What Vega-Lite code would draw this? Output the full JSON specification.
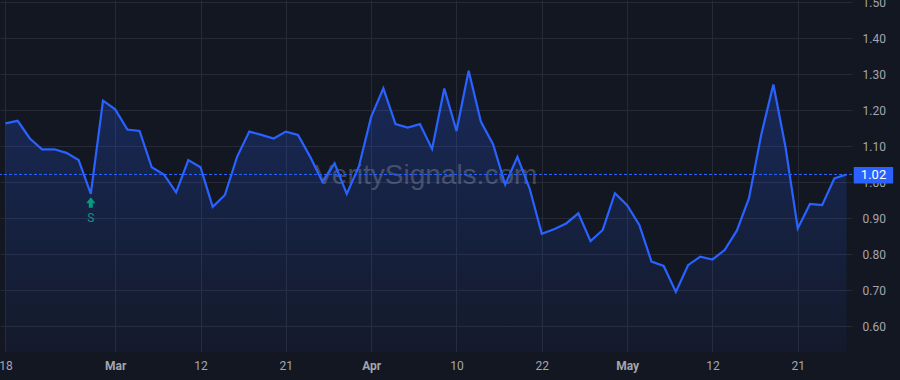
{
  "$schema": "https://vega.github.io/schema/vega-lite/v6.json",
  "width": 852,
  "height": 352,
  "autosize": {"type": "none"},
  "padding": {"left": 0, "top": 0, "right": 48, "bottom": 28},
  "background": "#131722",
  "config": {"view": {"stroke": null}, "font": "Roboto"},
  "data": {"values": [
    {"date": "2025-02-18", "value": 1.163},
    {"date": "2025-02-19", "value": 1.170},
    {"date": "2025-02-20", "value": 1.121},
    {"date": "2025-02-21", "value": 1.091},
    {"date": "2025-02-24", "value": 1.091},
    {"date": "2025-02-25", "value": 1.081},
    {"date": "2025-02-26", "value": 1.061},
    {"date": "2025-02-27", "value": 0.967, "signal": "S"},
    {"date": "2025-02-28", "value": 1.226},
    {"date": "2025-03-03", "value": 1.202},
    {"date": "2025-03-04", "value": 1.146},
    {"date": "2025-03-05", "value": 1.142},
    {"date": "2025-03-06", "value": 1.041},
    {"date": "2025-03-07", "value": 1.021},
    {"date": "2025-03-10", "value": 0.971},
    {"date": "2025-03-11", "value": 1.061},
    {"date": "2025-03-12", "value": 1.041},
    {"date": "2025-03-13", "value": 0.931},
    {"date": "2025-03-14", "value": 0.964},
    {"date": "2025-03-17", "value": 1.070},
    {"date": "2025-03-18", "value": 1.140},
    {"date": "2025-03-19", "value": 1.131},
    {"date": "2025-03-20", "value": 1.121},
    {"date": "2025-03-21", "value": 1.140},
    {"date": "2025-03-24", "value": 1.131},
    {"date": "2025-03-25", "value": 1.070},
    {"date": "2025-03-26", "value": 1.001},
    {"date": "2025-03-27", "value": 1.052},
    {"date": "2025-03-28", "value": 0.967},
    {"date": "2025-03-31", "value": 1.044},
    {"date": "2025-04-01", "value": 1.181},
    {"date": "2025-04-02", "value": 1.260},
    {"date": "2025-04-03", "value": 1.161},
    {"date": "2025-04-04", "value": 1.151},
    {"date": "2025-04-07", "value": 1.161},
    {"date": "2025-04-08", "value": 1.092},
    {"date": "2025-04-09", "value": 1.260},
    {"date": "2025-04-10", "value": 1.142},
    {"date": "2025-04-11", "value": 1.309},
    {"date": "2025-04-14", "value": 1.168},
    {"date": "2025-04-15", "value": 1.105},
    {"date": "2025-04-16", "value": 0.993},
    {"date": "2025-04-17", "value": 1.070},
    {"date": "2025-04-21", "value": 0.982},
    {"date": "2025-04-22", "value": 0.856},
    {"date": "2025-04-23", "value": 0.869},
    {"date": "2025-04-24", "value": 0.885},
    {"date": "2025-04-25", "value": 0.913},
    {"date": "2025-04-28", "value": 0.836},
    {"date": "2025-04-29", "value": 0.867},
    {"date": "2025-04-30", "value": 0.969},
    {"date": "2025-05-01", "value": 0.936},
    {"date": "2025-05-02", "value": 0.881},
    {"date": "2025-05-05", "value": 0.779},
    {"date": "2025-05-06", "value": 0.767},
    {"date": "2025-05-07", "value": 0.695},
    {"date": "2025-05-08", "value": 0.769},
    {"date": "2025-05-09", "value": 0.793},
    {"date": "2025-05-12", "value": 0.785},
    {"date": "2025-05-13", "value": 0.811},
    {"date": "2025-05-14", "value": 0.865},
    {"date": "2025-05-15", "value": 0.955},
    {"date": "2025-05-16", "value": 1.131},
    {"date": "2025-05-19", "value": 1.271},
    {"date": "2025-05-20", "value": 1.096},
    {"date": "2025-05-21", "value": 0.871},
    {"date": "2025-05-22", "value": 0.939},
    {"date": "2025-05-23", "value": 0.936},
    {"date": "2025-05-27", "value": 1.010},
    {"date": "2025-05-28", "value": 1.021, "last": true}
  ]},
  "layer": [
    {
      "mark": {
        "type": "area",
        "line": false,
        "fill": {
          "gradient": "linear", "x1": 1, "y1": 1, "x2": 1, "y2": 0,
          "stops": [
            {"offset": 0, "color": "rgba(41,98,255,0.04)"},
            {"offset": 1, "color": "rgba(41,98,255,0.25)"}
          ]
        }
      },
      "encoding": {
        "x": {
          "field": "date", "type": "ordinal",
          "scale": {"type": "point", "padding": 0.45},
          "axis": {
            "title": null,
            "values": ["2025-02-18", "2025-03-03", "2025-03-12", "2025-03-21", "2025-04-01", "2025-04-10", "2025-04-22", "2025-05-01", "2025-05-12", "2025-05-21"],
            "labelExpr": "datum.value == '2025-03-03' ? 'Mar' : datum.value == '2025-04-01' ? 'Apr' : datum.value == '2025-05-01' ? 'May' : slice(datum.value, 8)",
            "labelFontWeight": {"condition": {"test": "indexof(['2025-03-03','2025-04-01','2025-05-01'], datum.value) >= 0", "value": "bold"}, "value": "normal"},
            "labelAngle": 0,
            "labelOverlap": false,
            "labelFontSize": 12,
            "labelColor": "#a3a6af",
            "labelPadding": 8,
            "grid": true,
            "gridColor": "#262a36",
            "ticks": false,
            "domain": false
          }
        },
        "y": {
          "field": "value", "type": "quantitative",
          "scale": {"domain": [0.528, 1.5056], "nice": false, "zero": false},
          "axis": {
            "title": null,
            "orient": "right",
            "values": [0.6, 0.7, 0.8, 0.9, 1.0, 1.1, 1.2, 1.3, 1.4, 1.5],
            "tickCount": 20,
            "format": ".2f",
            "labelOverlap": false,
            "labelBound": false,
            "labelFontSize": 12,
            "labelColor": "#a3a6af",
            "labelPadding": 10,
            "grid": true,
            "gridColor": "#262a36",
            "ticks": false,
            "domain": false
          }
        },
        "y2": {"datum": 0.528}
      }
    },
    {
      "data": {"values": [{"t": "VeritySignals.com"}]},
      "mark": {"type": "text", "x": {"expr": "width / 2"}, "y": {"expr": "height / 2"}, "align": "center", "baseline": "middle", "fontSize": 28, "font": "Liberation Sans", "fill": "#b2b5be", "opacity": 0.3},
      "encoding": {"text": {"field": "t"}}
    },
    {
      "mark": {"type": "line", "stroke": "#2962ff", "strokeWidth": 2.2},
      "encoding": {
        "x": {"field": "date", "type": "ordinal"},
        "y": {"field": "value", "type": "quantitative"}
      }
    },
    {
      "mark": {"type": "rule", "stroke": "#2962ff", "strokeWidth": 1, "strokeDash": [3, 2]},
      "encoding": {"y": {"datum": 1.021, "type": "quantitative",
        "axis": {
            "title": null,
            "orient": "right",
            "values": [0.6, 0.7, 0.8, 0.9, 1.0, 1.1, 1.2, 1.3, 1.4, 1.5],
            "tickCount": 20,
            "format": ".2f",
            "labelOverlap": false,
            "labelBound": false,
            "labelFontSize": 12,
            "labelColor": "#a3a6af",
            "labelPadding": 10,
            "grid": true,
            "gridColor": "#262a36",
            "ticks": false,
            "domain": false
        }}}
    },
    {
      "transform": [{"filter": "datum.signal == 'S'"}],
      "mark": {"type": "point", "filled": true, "fill": "#089981", "opacity": 1, "strokeWidth": 0, "size": 400, "shape": "M0,0.33 L0.46,0.93 L0.2,0.93 L0.2,1.37 L-0.2,1.37 L-0.2,0.93 L-0.46,0.93 Z"},
      "encoding": {
        "x": {"field": "date", "type": "ordinal"},
        "y": {"field": "value", "type": "quantitative"}
      }
    },
    {
      "transform": [{"filter": "datum.signal == 'S'"}],
      "mark": {"type": "text", "fill": "#089981", "fontSize": 12, "dy": 24, "align": "center", "baseline": "middle"},
      "encoding": {
        "x": {"field": "date", "type": "ordinal"},
        "y": {"field": "value", "type": "quantitative"},
        "text": {"field": "signal"}
      }
    },
    {
      "transform": [{"filter": "datum.last == true"}],
      "mark": {"type": "point", "filled": true, "fill": "#2962ff", "opacity": 1, "strokeWidth": 0, "size": 1600, "shape": "M0.36,-0.38 L2.33,-0.38 L2.33,0.45 L0.36,0.45 Z"},
      "encoding": {
        "x": {"field": "date", "type": "ordinal"},
        "y": {"field": "value", "type": "quantitative"}
      }
    },
    {
      "transform": [{"filter": "datum.last == true"}],
      "mark": {"type": "text", "fill": "#ffffff", "fontSize": 13, "dx": 27, "dy": 1, "align": "center", "baseline": "middle"},
      "encoding": {
        "x": {"field": "date", "type": "ordinal"},
        "y": {"field": "value", "type": "quantitative"},
        "text": {"field": "value", "type": "quantitative", "format": ".2f"}
      }
    }
  ]
}
